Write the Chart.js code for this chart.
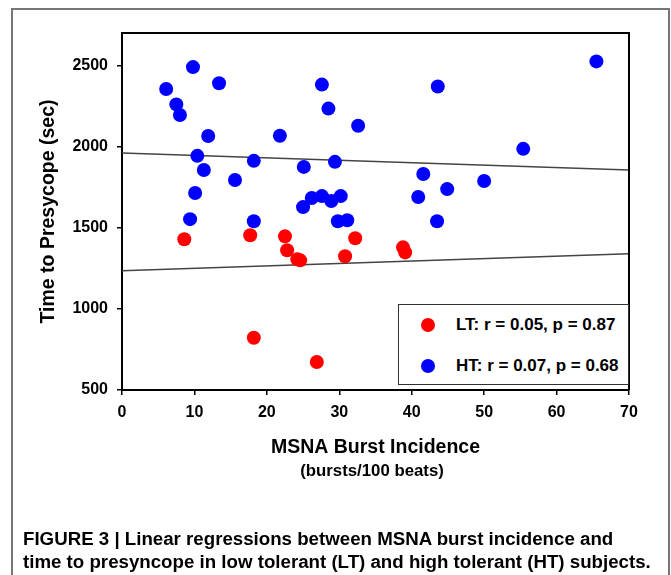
<!DOCTYPE html>
<html>
<head>
<meta charset="utf-8">
<script src="https://cdn.jsdelivr.net/npm/chart.js@4.4.1/dist/chart.umd.min.js"></script>
<style>
  html, body { margin: 0; padding: 0; background: #fff; }
  body { width: 671px; height: 575px; overflow: hidden; position: relative;
         font-family: "Liberation Sans", Arial, sans-serif; color: #000; }
  #frame { position: absolute; left: 11px; top: 8px; width: 659px; height: 640px;
           border: 2px solid #777; box-sizing: border-box; }
  #chart { position: absolute; left: 0; top: 0; }
  #subtitle { position: absolute; left: 272px; width: 200px; top: 462px; text-align: center;
              font-weight: bold; font-size: 16.8px; line-height: 18px; }
  #legend { position: absolute; left: 398px; top: 304px; width: 231px; height: 81px;
            border: 1.5px solid #333; box-sizing: border-box; background: #fff; }
  .entry { position: absolute; left: 0; height: 20px; font-weight: bold; font-size: 17px; line-height: 20px; }
  .entry .dot { position: absolute; left: 22px; top: 3px; width: 14px; height: 14px; border-radius: 50%; }
  .entry .txt { position: absolute; left: 57px; top: 0; white-space: nowrap; }
  .cap { position: absolute; left: 23px; font-weight: bold; font-size: 18.7px; line-height: 18px; white-space: nowrap; }
</style>
</head>
<body>
<div id="frame"></div>
<canvas id="chart" width="671" height="575"></canvas>
<div id="subtitle">(bursts/100 beats)</div>
<div id="legend"></div>
<div class="cap" id="cap1" style="top:530px"></div>
<div class="cap" id="cap2" style="top:553px"></div>

<script>
// ----- Data -----
const X_TICKS = [0, 10, 20, 30, 40, 50, 60, 70];
const Y_TICKS = [500, 1000, 1500, 2000, 2500];

// High tolerant (HT) subjects
const htX = [6.1, 7.5, 8.0, 9.8, 13.4, 11.9, 10.4, 11.3, 15.6, 10.1, 9.4, 18.2, 18.2, 21.8,
             27.6, 28.5, 32.6, 25.1, 29.4, 25.0, 26.2, 27.6, 28.9, 30.2, 29.8, 31.1,
             43.6, 65.5, 55.4, 41.6, 44.9, 40.9, 50.0, 43.5];
const htY = [2355, 2260, 2195, 2490, 2390, 2065, 1943, 1856, 1794, 1714, 1553, 1540, 1912, 2067,
             2382, 2234, 2128, 1875, 1906, 1627, 1683, 1695, 1664, 1695, 1540, 1546,
             2370, 2525, 1986, 1831, 1738, 1689, 1788, 1540];

// Low tolerant (LT) subjects
const ltX = [8.6, 17.7, 22.5, 22.8, 24.2, 24.6, 30.8, 32.2, 18.2, 26.9, 38.8, 39.1];
const ltY = [1429, 1454, 1447, 1361, 1305, 1299, 1324, 1435, 822, 673, 1379, 1348];

// Regression lines (end points)
const fitX   = [0, 70];
const htFitY = [1960, 1855];
const ltFitY = [1235, 1340];

const legendItems = [
  { label: "LT: r = 0.05, p = 0.87", color: "#ff0000" },
  { label: "HT: r = 0.07, p = 0.68", color: "#0000ff" },
];
const captionLines = [
  "FIGURE 3 | Linear regressions between MSNA burst incidence and",
  "time to presyncope in low tolerant (LT) and high tolerant (HT) subjects.",
];

const FONT = "'Liberation Sans', Arial, sans-serif";
const pts = (xs, ys) => xs.map((x, i) => ({ x, y: ys[i] }));

// ----- HTML legend + caption -----
const legendEl = document.getElementById("legend");
legendItems.forEach((it, i) => {
  const d = document.createElement("div");
  d.className = "entry";
  d.style.top = (10 + i * 41) + "px";
  d.style.width = "100%";
  d.innerHTML = `<span class="dot" style="background:${it.color}"></span><span class="txt">${it.label}</span>`;
  legendEl.appendChild(d);
});
document.getElementById("cap1").textContent = captionLines[0];
document.getElementById("cap2").textContent = captionLines[1];

// top + right edges of the plot box
const boxPlugin = {
  id: "plotBox",
  afterDraw(chart) {
    const { ctx, chartArea: a } = chart;
    ctx.save();
    ctx.strokeStyle = "#000";
    ctx.lineWidth = 2;
    ctx.beginPath();
    ctx.moveTo(a.left, a.top);
    ctx.lineTo(a.right, a.top);
    ctx.lineTo(a.right, a.bottom);
    ctx.stroke();
    ctx.restore();
  }
};

const tickFont = { family: FONT, size: 16, weight: "bold" };
const titleFont = { family: FONT, size: 19.5, weight: "bold" };

new Chart(document.getElementById("chart"), {
  type: "scatter",
  data: {
    datasets: [
      { label: "LT", data: pts(ltX, ltY), backgroundColor: "#ff0000", borderColor: "#ff0000",
        pointRadius: 7, pointBorderWidth: 0, order: 1 },
      { label: "HT", data: pts(htX, htY), backgroundColor: "#0000ff", borderColor: "#0000ff",
        pointRadius: 7, pointBorderWidth: 0, order: 1 },
      { label: "LT fit", data: pts(fitX, ltFitY), showLine: true, borderColor: "#444",
        borderWidth: 1.5, pointRadius: 0, order: 2 },
      { label: "HT fit", data: pts(fitX, htFitY), showLine: true, borderColor: "#444",
        borderWidth: 1.5, pointRadius: 0, order: 2 },
    ],
  },
  options: {
    responsive: false,
    animation: false,
    layout: { padding: { left: 0, top: 33, right: 42, bottom: 95 } },
    plugins: { legend: { display: false }, tooltip: { enabled: false } },
    scales: {
      x: {
        type: "linear", min: 0, max: 70,
        afterFit: (s) => { s.height = 90; },
        afterBuildTicks: (s) => { s.ticks = X_TICKS.map(v => ({ value: v })); },
        grid: { drawOnChartArea: false, drawTicks: true, tickLength: 5, color: "#000", lineWidth: 1.5 },
        border: { color: "#000", width: 2 },
        ticks: { color: "#000", font: tickFont, padding: 8, maxRotation: 0, callback: (v) => String(v) },
        title: { display: true, text: "MSNA Burst Incidence", color: "#000", font: titleFont,
                 padding: { top: 0, bottom: 21 } },
      },
      y: {
        type: "linear", min: 500, max: 2700,
        afterFit: (s) => { s.width = 122; },
        afterBuildTicks: (s) => { s.ticks = Y_TICKS.map(v => ({ value: v })); },
        grid: { drawOnChartArea: false, drawTicks: true, tickLength: 5, color: "#000", lineWidth: 1.5 },
        border: { color: "#000", width: 2 },
        ticks: { color: "#000", font: tickFont, padding: 9, callback: (v) => String(v) },
        title: { display: true, text: "Time to Presycope (sec)", color: "#000", font: titleFont,
                 padding: { top: 37, bottom: 0 } },
      },
    },
  },
  plugins: [boxPlugin],
});
</script>
</body>
</html>
